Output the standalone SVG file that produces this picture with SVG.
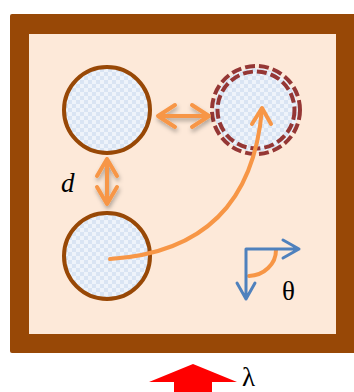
<svg xmlns="http://www.w3.org/2000/svg" width="354" height="392" viewBox="0 0 354 392">
<defs>
<pattern id="chk" width="8" height="8" patternUnits="userSpaceOnUse">
<rect width="8" height="8" fill="#eef3fa"/>
<rect width="4" height="4" fill="#d9e4f3"/>
<rect x="4" y="4" width="4" height="4" fill="#d9e4f3"/>
</pattern>
<filter id="sh" x="-30%" y="-30%" width="160%" height="160%">
<feDropShadow dx="1" dy="3" stdDeviation="2" flood-color="#000" flood-opacity="0.3"/>
</filter>
</defs>
<style>
.circ{fill:url(#chk);stroke:#984806;stroke-width:4}
.dash{fill:none;stroke:#953735;stroke-width:4;stroke-dasharray:10 4}
.oarr{fill:none;stroke:#f79646;stroke-width:4;stroke-linecap:round;stroke-linejoin:round}
.barr{fill:none;stroke:#4f81bd;stroke-width:3;stroke-linecap:round;stroke-linejoin:round}
.lbl{font-family:"Liberation Serif","DejaVu Serif",serif;font-size:27px;fill:#000}
</style>
<g id="frame">
<rect x="10" y="14" width="350" height="339" rx="2" fill="#984806"/>
<rect x="29" y="34" width="307" height="300" fill="#fde9d9"/>
</g>
<g id="particle-a"><circle class="circ" cx="107" cy="110" r="43"/></g>
<g id="particle-b"><circle class="circ" cx="107" cy="256" r="43"/></g>
<g id="particle-c">
<circle cx="256" cy="110" r="42" fill="url(#chk)"/>
<circle class="dash" cx="256" cy="110" r="44"/>
<circle class="dash" cx="256" cy="110" r="38.5" stroke-width="3.5"/>
</g>
<g id="connectors">
<g filter="url(#sh)">
<path class="oarr" d="M158,116 H209 M175,105 L158,116 L175,127 M192,105 L209,116 L192,127"/>
<path class="oarr" d="M107,159 V204 M97,176 L107,159 L117,176 M97,187 L107,204 L117,187"/>
</g>
<path class="oarr" stroke-width="3" d="M110,259 Q250,250 262,109"/>
<path class="oarr" stroke-width="3" d="M252,124 L262,108 L271,124"/>
</g>
<g id="axes">
<path class="oarr" d="M276,250 A28,26 0 0 1 249,276"/>
<path class="barr" d="M246,249 H299 M283,240 L299,249 L283,258 M246,249 V299 M237,283 L246,299 L255,283"/>
<text class="lbl" x="282" y="300">θ</text>
</g>
<g id="wave">
<path d="M193,364 L237,382 L212,382 L212,392 L174,392 L174,382 L149,382 Z" fill="#ff0000"/>
<text class="lbl" x="242" y="386" font-size="25">λ</text>
</g>
<g id="label-d"><text class="lbl" x="61" y="192" font-style="italic">d</text></g>
</svg>
